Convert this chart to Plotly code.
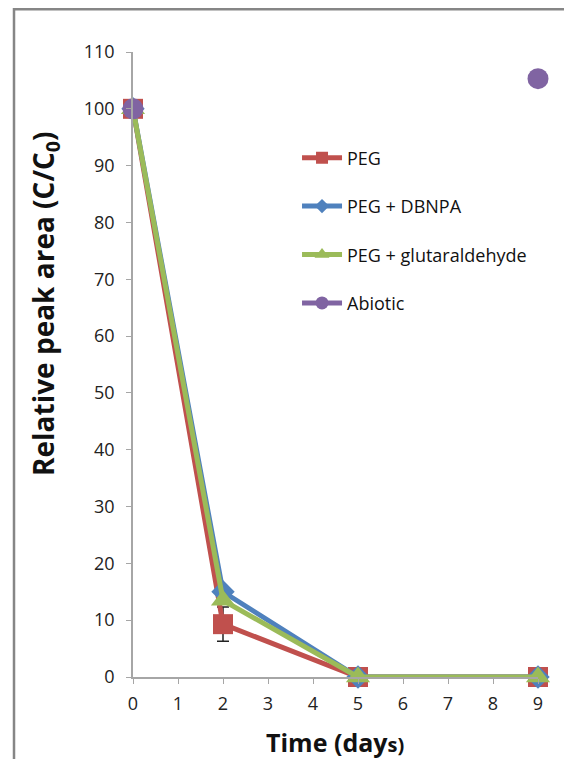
import plotly.graph_objects as go

days = [0, 2, 5, 9]
peg = [100, 9.3, 0, 0]
peg_err = [0, 3.0, 0, 0]
dbnpa = [100, 15.0, 0, 0]
glut = [100, 13.5, 0, 0]
abiotic = [100, None, None, 105.3]

names = ["PEG", "PEG + DBNPA", "PEG + glutaraldehyde", "Abiotic"]
colors = ["#C0504D", "#4F81BD", "#9BBB59", "#8064A2"]
symbols = ["square", "diamond", "triangle-up", "circle"]
sizes = [20, 18, 21, 21]
legend_sizes = [12, 11, 13, 13]

x_title = "<b>Time (day</b><b><span style='font-size:20px'>s)</span></b>"
y_title = "<b>Relative peak area (C/C<sub>0</sub>)</b>"

fig = go.Figure()
series = [peg, dbnpa, glut, abiotic]
for i, (nm, ys) in enumerate(zip(names, series)):
    kw = {}
    if i == 0:
        kw["error_y"] = dict(type="data", array=peg_err, visible=True,
                             color="#222222", thickness=1.5, width=6)
    fig.add_trace(go.Scatter(
        x=days, y=ys, name=nm, mode="lines+markers",
        connectgaps=False, cliponaxis=False, showlegend=False,
        line=dict(color=colors[i], width=5),
        marker=dict(symbol=symbols[i], size=sizes[i], color=colors[i]),
        legendgroup=nm,
        **kw))

# legend entries (smaller symbols, as in the reference legend)
for i, nm in enumerate(names):
    fig.add_trace(go.Scatter(
        x=[None], y=[None], name=nm, mode="lines+markers",
        line=dict(color=colors[i], width=5),
        marker=dict(symbol=symbols[i], size=legend_sizes[i], color=colors[i]),
        legendgroup=nm, showlegend=True))

fig.update_layout(
    width=564, height=751,
    margin=dict(l=125, r=34, t=44, b=82),
    paper_bgcolor="white", plot_bgcolor="white",
    font=dict(family="Open Sans, Liberation Sans, sans-serif", color="#222222"),
    showlegend=True,
    legend=dict(x=0.405, y=0.86, xanchor="left", yanchor="top",
                font=dict(size=18, color="#111111"), tracegroupgap=22,
                bgcolor="rgba(0,0,0,0)", itemwidth=40),
    xaxis=dict(range=[0, 9], tickmode="linear", dtick=1, tick0=0,
               showgrid=False, zeroline=False, showline=True,
               linecolor="#A6A6A6", linewidth=1.5,
               ticks="outside", ticklen=5, tickcolor="#A6A6A6",
               ticklabelstandoff=5,
               tickfont=dict(size=18, color="#222222")),
    yaxis=dict(range=[0, 110], tickmode="linear", dtick=10, tick0=0,
               showgrid=False, zeroline=False, showline=True,
               linecolor="#A6A6A6", linewidth=1.5,
               ticks="outside", ticklen=5, tickcolor="#A6A6A6",
               ticklabelstandoff=8,
               tickfont=dict(size=18, color="#222222")),
    annotations=[
        dict(text=x_title, xref="paper", yref="paper", x=0.499, y=-0.104,
             xanchor="center", yanchor="middle", showarrow=False,
             font=dict(size=25, color="#111111")),
        dict(text=y_title, xref="paper", yref="paper", x=-0.217, y=0.597,
             xanchor="center", yanchor="middle", showarrow=False, textangle=-90,
             font=dict(size=28, color="#111111")),
    ],
    shapes=[dict(type="rect", xref="paper", yref="paper",
                 x0=-0.2938, x1=1.3, y0=-0.3, y1=1.0685,
                 line=dict(color="#868686", width=2.5), layer="below")],
)

fig.write_html("out.html")
